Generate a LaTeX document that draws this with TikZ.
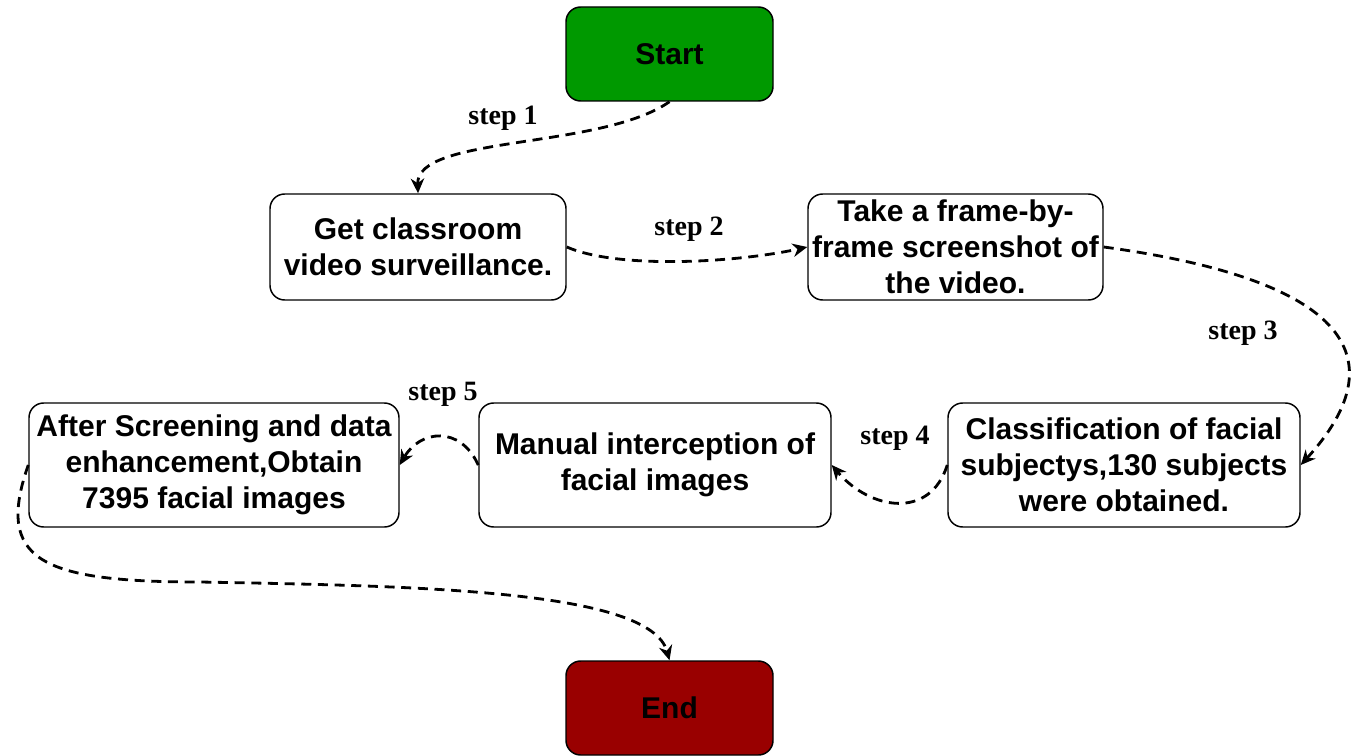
\documentclass[tikz,border=0pt]{standalone}
\usepackage{fontspec}
\setmainfont{Liberation Sans}
\newfontfamily\labelfont{Liberation Serif}
\usetikzlibrary{arrows.meta}
\definecolor{startgreen}{HTML}{009900}
\definecolor{endred}{HTML}{990000}
\tikzset{
  box/.style={draw=black, line width=1.1pt, rounded corners=11pt, fill=white,
    align=center, inner sep=0pt, font=\bfseries\fontsize{22.5}{27}\selectfont},
  terminal/.style={box, minimum width=155.25pt, minimum height=70.5pt},
  flow/.style={line width=2.1pt, dash pattern=on 7.5pt off 5pt,
    -{Stealth[length=11pt, width=10pt, inset=3.5pt]}},
  steplabel/.style={font=\labelfont\bfseries\fontsize{21}{24}\selectfont, inner sep=0pt}
}
\begin{document}
\begin{tikzpicture}[x=0.75pt, y=-0.75pt]
\useasboundingbox (0,0) rectangle (1353,756);

% process boxes
\node[terminal, fill=startgreen] (start) at (669.5,54) {Start};
\node[box, minimum width=222pt, minimum height=79.5pt] (get) at (418,247)
  {Get classroom\\video surveillance.};
\node[box, minimum width=221.25pt, minimum height=79.5pt] (take) at (955.5,247)
  {Take a frame-by-\\frame screenshot of\\the video.};
\node[box, minimum width=264pt, minimum height=93pt] (class) at (1124,465)
  {Classification of facial\\subjectys,130 subjects\\were obtained.};
\node[box, minimum width=264pt, minimum height=93pt] (manual) at (655,465)
  {Manual interception of\\facial images};
\node[box, minimum width=277.5pt, minimum height=93pt] (after) at (214,465)
  {After Screening and data\\enhancement,Obtain\\7395 facial images};
\node[terminal, fill=endred] (end) at (669.5,708) {End};

% step connectors
\draw[flow] (start.south) .. controls (600,150) and (416,135) .. (get.north);
\draw[flow] (get.east) .. controls (620,270) and (740,262) .. (take.west);
\draw[flow] (take.east) .. controls (1420,290) and (1360,400) .. (class.east);
\draw[flow] (class.west) .. controls (930,520) and (870,510) .. (manual.east);
\draw[flow] (manual.west) .. controls (460,425) and (420,430) .. (after.east);
\draw[flow] (after.west) .. controls (-5,560) and (40,582) .. (200,582)
  .. controls (420,586) and (650,590) .. (end.north);

% step labels
\node[steplabel] (s1) at (503,118) {step 1};
\node[steplabel] (s2) at (689,229) {step 2};
\node[steplabel] (s3) at (1243,333) {step 3};
\node[steplabel] (s4) at (895,438) {step 4};
\node[steplabel] (s5) at (443,394) {step 5};
\end{tikzpicture}
\end{document}
